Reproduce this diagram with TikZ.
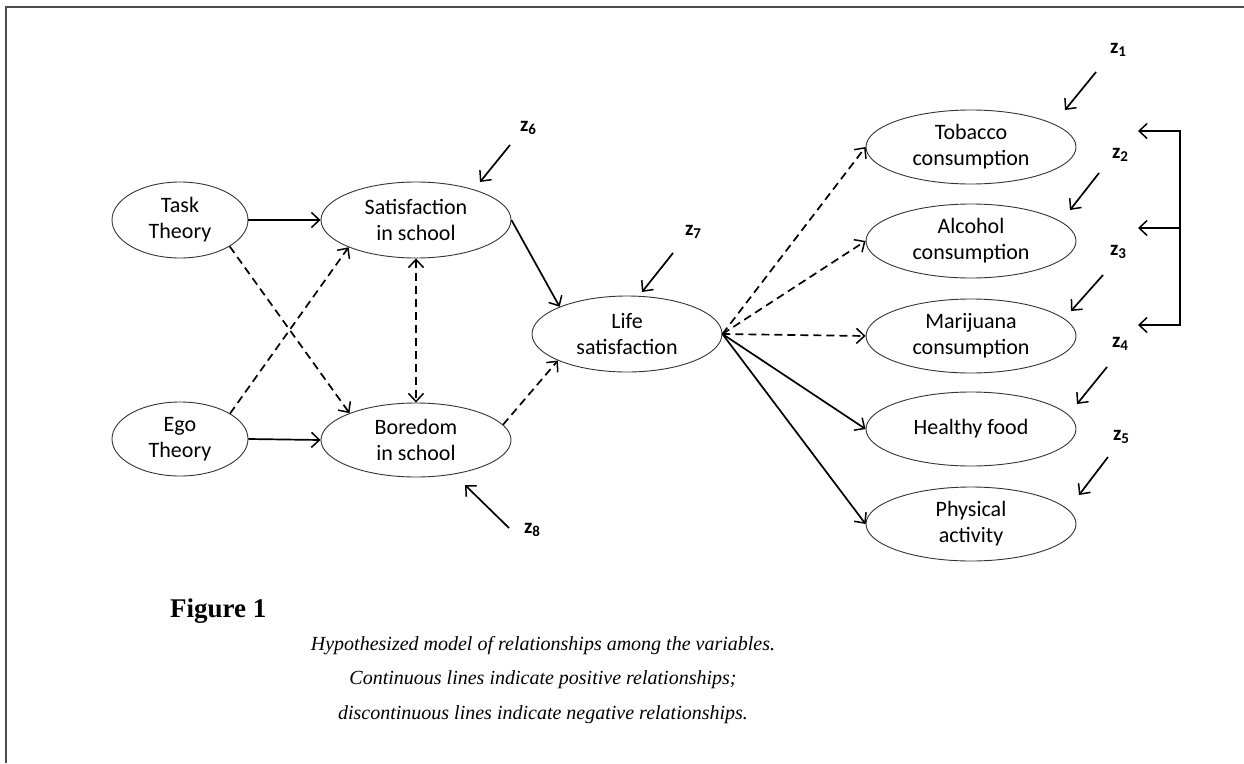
\documentclass[tikz,border=0pt]{standalone}
\usepackage{fontspec}
\newfontfamily\carl{Carlito}
\newfontfamily\capfont{Liberation Serif}
\usetikzlibrary{arrows.meta,shapes.geometric}
\begin{document}
\begin{tikzpicture}[x=1pt,y=-1pt,
  ell/.style={ellipse, draw=black!80, line width=0.9pt, inner sep=0pt, align=center,
    font=\carl\fontsize{22}{26}\selectfont},
  arr/.style={line width=1.7pt, -{Straight Barb[length=8pt,width=15pt,line width=1.5pt]}},
  darr/.style={line width=1.7pt, {Straight Barb[length=8pt,width=15pt,line width=1.5pt]}-{Straight Barb[length=8pt,width=15pt,line width=1.5pt]}},
  neg/.style={dash pattern=on 8pt off 5pt},
  zl/.style={font=\carl\bfseries\fontsize{21}{22}\selectfont, inner sep=0pt},
  frame/.style={draw=black!70, line width=1.2pt}]
\useasboundingbox (0,0) rectangle (1244,763);
\draw[frame] (6,763) -- (6,7) -- (1244,7);

% nodes
\node[ell, minimum width=136pt, minimum height=76pt] (task) at (180,220) {Task\\Theory};
\node[ell, minimum width=136pt, minimum height=74pt] (ego) at (180,439) {Ego\\Theory};
\node[ell, minimum width=190pt, minimum height=76pt] (sat) at (416,220) {Satisfaction\\in school};
\node[ell, minimum width=190pt, minimum height=74pt] (bor) at (416,440) {Boredom\\in school};
\node[ell, minimum width=190pt, minimum height=76pt] (life) at (627,334) {Life\\satisfaction};
\node[ell, minimum width=210pt, minimum height=74pt] (tob) at (971,147) {Tobacco\\consumption};
\node[ell, minimum width=210pt, minimum height=74pt] (alc) at (971,241) {Alcohol\\consumption};
\node[ell, minimum width=210pt, minimum height=74pt] (mar) at (971,336) {Marijuana\\consumption};
\node[ell, minimum width=210pt, minimum height=74pt] (hea) at (971,429) {Healthy food};
\node[ell, minimum width=210pt, minimum height=74pt] (phy) at (971,524) {Physical\\activity};

% connectors
\draw[arr] (task.east) -- (sat.west);
\draw[arr] (ego.east) -- (bor.west);
\draw[arr, neg] (task.-28) -- (bor.158);
\draw[arr, neg] (ego.27) -- (sat.202);
\draw[darr, neg] (sat.south) -- (bor.north);
\draw[arr] (sat.east) -- (life.158);
\draw[arr, neg] (bor.10) -- (life.201);
\draw[arr, neg] (life.east) -- (tob.west);
\draw[arr, neg] (life.east) -- (alc.west);
\draw[arr, neg] (life.east) -- (mar.west);
\draw[arr] (life.east) -- (hea.west);
\draw[arr] (life.east) -- (phy.west);

% bracket
\coordinate (b1) at (1180,131);
\coordinate (b2) at (1180,228);
\coordinate (b3) at (1180,325);
\coordinate (b1t) at (1138,131);
\coordinate (b2t) at (1138,228);
\coordinate (b3t) at (1138,325);
\draw[darr] (b1t) -- (b1) -- (b3) -- (b3t);
\draw[arr] (b2) -- (b2t);

% disturbances
\newcommand{\zlab}[7]{%
  \node[zl] (z#1) at (#2,#3) {z\raisebox{-0.35ex}{\fontsize{15}{15}\selectfont #1}};
  \coordinate (z#1s) at (#4,#5);
  \coordinate (z#1e) at (#6,#7);
  \draw[arr] (z#1s) -- (z#1e);}
\zlab{1}{1118}{50}{1096}{72}{1065}{110}
\zlab{2}{1120}{155}{1099}{173}{1070}{210}
\zlab{3}{1118}{252}{1103}{275}{1071}{311}
\zlab{4}{1120}{344}{1107}{367}{1077}{404}
\zlab{5}{1121}{437}{1108}{457}{1079}{495}
\zlab{6}{528}{128}{510}{145}{480}{182}
\zlab{7}{693}{232}{673}{253}{642}{292}
\zlab{8}{532}{530}{509}{528}{465}{485}

% caption
\node[font=\capfont\bfseries\fontsize{27}{30}\selectfont, anchor=base west, inner sep=0pt] (fig) at (170,617) {Figure 1};
\node[font=\capfont\itshape\fontsize{20}{34.5}\selectfont, align=center, anchor=base, inner sep=0pt] (cap) at (543,719)
  {Hypothesized model of relationships among the variables.\\
   Continuous lines indicate positive relationships;\\
   discontinuous lines indicate negative relationships.};
\end{tikzpicture}
\end{document}
